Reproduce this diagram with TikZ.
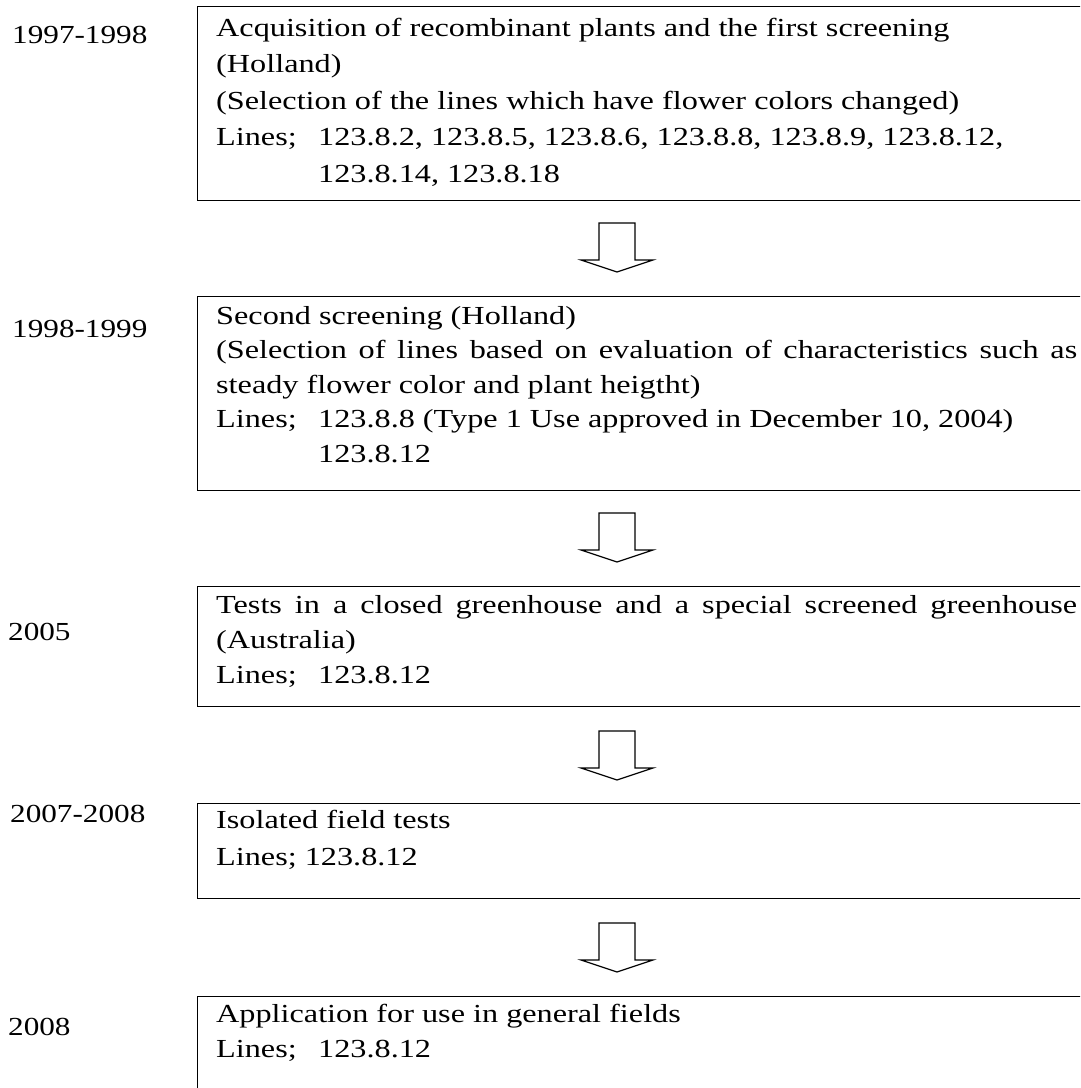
\documentclass[tikz,border=0pt]{standalone}
\usepackage{fontspec}
\setmainfont{Liberation Serif}[FakeStretch=1.24]
\newfontfamily\yearfont{Liberation Serif}[FakeStretch=1.2]
\newcommand{\linestab}{\makebox[102pt][l]{Lines;}}
\newcommand{\fullline}[1]{\hbox to 861pt{\spaceskip=\fontdimen2\font plus 1fil minus .5\fontdimen2\font\relax #1}}

\begin{document}
\begin{tikzpicture}[x=1pt,y=-1pt,
    stagebox/.style={draw, line width=1.4pt, anchor=north west, inner sep=0pt, minimum width=903pt},
    stagetext/.style={anchor=north west, align=left, inner sep=0pt, execute at begin node={\spaceskip=0pt\xspaceskip=0pt}},
    year/.style={anchor=base west, inner sep=0pt, font=\yearfont\fontsize{26}{30}\selectfont},
    blockarrow/.style={draw, line width=1.2pt, line join=miter}]
    \useasboundingbox (0,0) rectangle (1080,1088);
    \clip (0,0) rectangle (1080,1088);

    % years
    \node[year] (y1) at (12,43) {1997-1998};
    \node[year] (y2) at (12,337) {1998-1999};
    \node[year] (y3) at (8,640) {2005};
    \node[year] (y4) at (10,822) {2007-2008};
    \node[year] (y5) at (8,1035) {2008};

    % stage boxes
    \node[stagebox, minimum height=194pt] (b1) at (197,6) {};
    \node[stagebox, minimum height=194pt] (b2) at (197,296) {};
    \node[stagebox, minimum height=120pt] (b3) at (197,586) {};
    \node[stagebox, minimum height=95pt] (b4) at (197,803) {};
    \node[stagebox, minimum height=120pt] (b5) at (197,996) {};

    % stage texts (first baseline = top + 0.7 baselineskip)
    \node[stagetext, font=\fontsize{26}{36.5}\selectfont] (t1) at (216,10.45) {\strut Acquisition of recombinant plants and the first screening\\
        (Holland)\\
        (Selection of the lines which have flower colors changed)\\
        \linestab 123.8.2, 123.8.5, 123.8.6, 123.8.8, 123.8.9, 123.8.12,\\
        \hspace*{102pt}123.8.14, 123.8.18};
    \node[stagetext, font=\fontsize{26}{34.5}\selectfont] (t2) at (216,299.85) {\strut Second screening (Holland)\\
        \fullline{(Selection of lines based on evaluation of characteristics such as}\\
        steady flower color and plant heigtht)\\
        \linestab 123.8.8 (Type 1 Use approved in December 10, 2004)\\
        \hspace*{102pt}123.8.12};
    \node[stagetext, font=\fontsize{26}{35}\selectfont] (t3) at (216,588.5) {\strut\fullline{Tests in a closed greenhouse and a special screened greenhouse}\\
        (Australia)\\
        \linestab 123.8.12};
    \node[stagetext, font=\fontsize{26}{37}\selectfont] (t4) at (216,802.1) {\strut Isolated field tests\\
        Lines; 123.8.12};
    \node[stagetext, font=\fontsize{26}{35}\selectfont] (t5) at (216,997.5) {\strut Application for use in general fields\\
        \linestab 123.8.12};

    % arrows between stages
    \coordinate (a1) at (599,223);
    \coordinate (a2) at (599,513);
    \coordinate (a3) at (599,731);
    \coordinate (a4) at (599,923);
    \foreach \a in {a1,a2,a3,a4}
        \draw[blockarrow] (\a) -- ++(0,37) -- ++(-18,0) -- ++(36,12) -- ++(36,-12) -- ++(-18,0) -- ++(0,-37) -- cycle;
\end{tikzpicture}
\end{document}
